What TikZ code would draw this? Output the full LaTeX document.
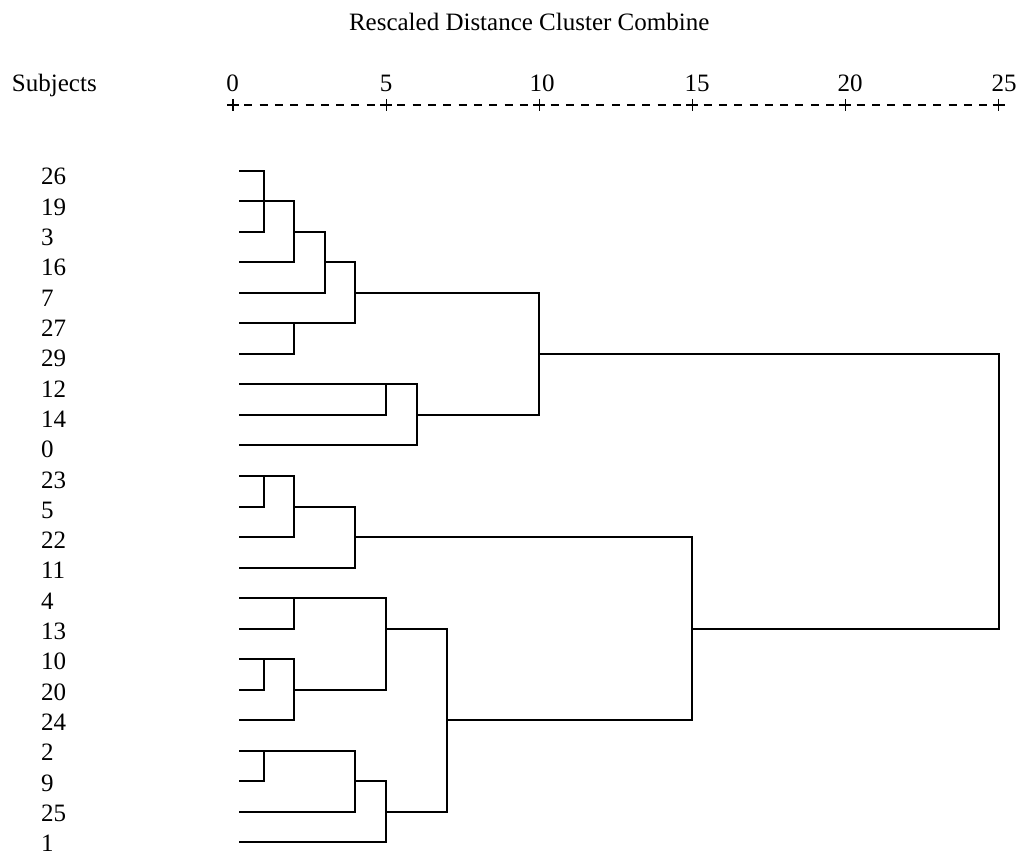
\documentclass[tikz,border=0pt]{standalone}
\usepackage{fontspec}
\setmainfont{Liberation Serif}
\newcommand\Xd[1]{233+30.62*#1}
\newcommand\Yr[1]{170.7+30.53*#1}
\begin{document}
\begin{tikzpicture}[x=0.75pt,y=-0.75pt,
  every node/.style={inner sep=0pt, outer sep=0pt, font=\fontsize{18.75}{22}\selectfont},
  tree/.style={line width=1.5pt},
  axis/.style={line width=0.9pt}]
\useasboundingbox (0,0) rectangle (1023,855);
% title and header
\node[anchor=base west] (title) at (349,31) {Rescaled Distance Cluster Combine};
\node[anchor=base west] (subj) at (12,92) {Subjects};
\foreach \v/\cx [count=\k from 0] in {0/232.5,5/386,10/542,15/697,20/850,25/1004} {
  \node[anchor=base] (s\k) at (\cx,92) {\v};
}
% scale line
\foreach \k in {0,...,5} {
  \coordinate (p\k) at ({\Xd{5*\k}},105);
  \draw[axis] ({\Xd{5*\k}-6},105) -- ({\Xd{5*\k}+6},105);
  \draw[axis] ({\Xd{5*\k}},99) -- ({\Xd{5*\k}},111);
}
\foreach \k in {0,...,4} {
  \foreach \j in {1,...,9} {
    \draw[axis] ({\Xd{5*\k}+15.31*\j-4},105) -- ({\Xd{5*\k}+15.31*\j+4},105);
  }
}
% leaves
\foreach \n [count=\i from 0] in {26,19,3,16,7,27,29,12,14,0,23,5,22,11,4,13,10,20,24,2,9,25,1} {
  \node[anchor=base west] (t\i) at (41,{185+30.3*\i}) {\n};
  \coordinate (l\i) at (239.3,{\Yr{\i}});
}
% merge points
\coordinate (A) at ({\Xd{1}},{\Yr{1}});
\coordinate (B) at ({\Xd{2}},{\Yr{2}});
\coordinate (C) at ({\Xd{3}},{\Yr{3}});
\coordinate (D) at ({\Xd{2}},{\Yr{5}});
\coordinate (E) at ({\Xd{4}},{\Yr{4}});
\coordinate (F) at ({\Xd{5}},{\Yr{7}});
\coordinate (G) at ({\Xd{6}},{\Yr{8}});
\coordinate (H) at ({\Xd{10}},{\Yr{6}});
\coordinate (I) at ({\Xd{1}},{\Yr{10}});
\coordinate (J) at ({\Xd{2}},{\Yr{11}});
\coordinate (K) at ({\Xd{4}},{\Yr{12}});
\coordinate (M) at ({\Xd{2}},{\Yr{14}});
\coordinate (N) at ({\Xd{1}},{\Yr{16}});
\coordinate (O) at ({\Xd{2}},{\Yr{17}});
\coordinate (P) at ({\Xd{5}},{\Yr{15}});
\coordinate (Q) at ({\Xd{1}},{\Yr{19}});
\coordinate (R) at ({\Xd{4}},{\Yr{20}});
\coordinate (S) at ({\Xd{5}},{\Yr{21}});
\coordinate (T) at ({\Xd{7}},{\Yr{18}});
\coordinate (U) at ({\Xd{15}},{\Yr{15}});
\coordinate (V) at ({\Xd{25}},{\Yr{10}});
% brackets
\draw[tree] (l0) -- (l0 -| A) -- (l2 -| A) -- (l2);
\draw[tree] (l1) -- (A);
\draw[tree] (A) -- (A -| B) -- (l3 -| B) -- (l3);
\draw[tree] (B) -- (B -| C) -- (l4 -| C) -- (l4);
\draw[tree] (l5) -- (l5 -| D) -- (l6 -| D) -- (l6);
\draw[tree] (C) -- (C -| E) -- (D -| E) -- (D);
\draw[tree] (l7) -- (l7 -| F) -- (l8 -| F) -- (l8);
\draw[tree] (F) -- (F -| G) -- (l9 -| G) -- (l9);
\draw[tree] (E) -- (E -| H) -- (G -| H) -- (G);
\draw[tree] (l10) -- (l10 -| I) -- (l11 -| I) -- (l11);
\draw[tree] (I) -- (I -| J) -- (l12 -| J) -- (l12);
\draw[tree] (J) -- (J -| K) -- (l13 -| K) -- (l13);
\draw[tree] (l14) -- (l14 -| M) -- (l15 -| M) -- (l15);
\draw[tree] (l16) -- (l16 -| N) -- (l17 -| N) -- (l17);
\draw[tree] (N) -- (N -| O) -- (l18 -| O) -- (l18);
\draw[tree] (M) -- (M -| P) -- (O -| P) -- (O);
\draw[tree] (l19) -- (l19 -| Q) -- (l20 -| Q) -- (l20);
\draw[tree] (Q) -- (Q -| R) -- (l21 -| R) -- (l21);
\draw[tree] (R) -- (R -| S) -- (l22 -| S) -- (l22);
\draw[tree] (P) -- (P -| T) -- (S -| T) -- (S);
\draw[tree] (K) -- (K -| U) -- (T -| U) -- (T);
\draw[tree] (H) -- (H -| V) -- (U -| V) -- (U);
\end{tikzpicture}
\end{document}
